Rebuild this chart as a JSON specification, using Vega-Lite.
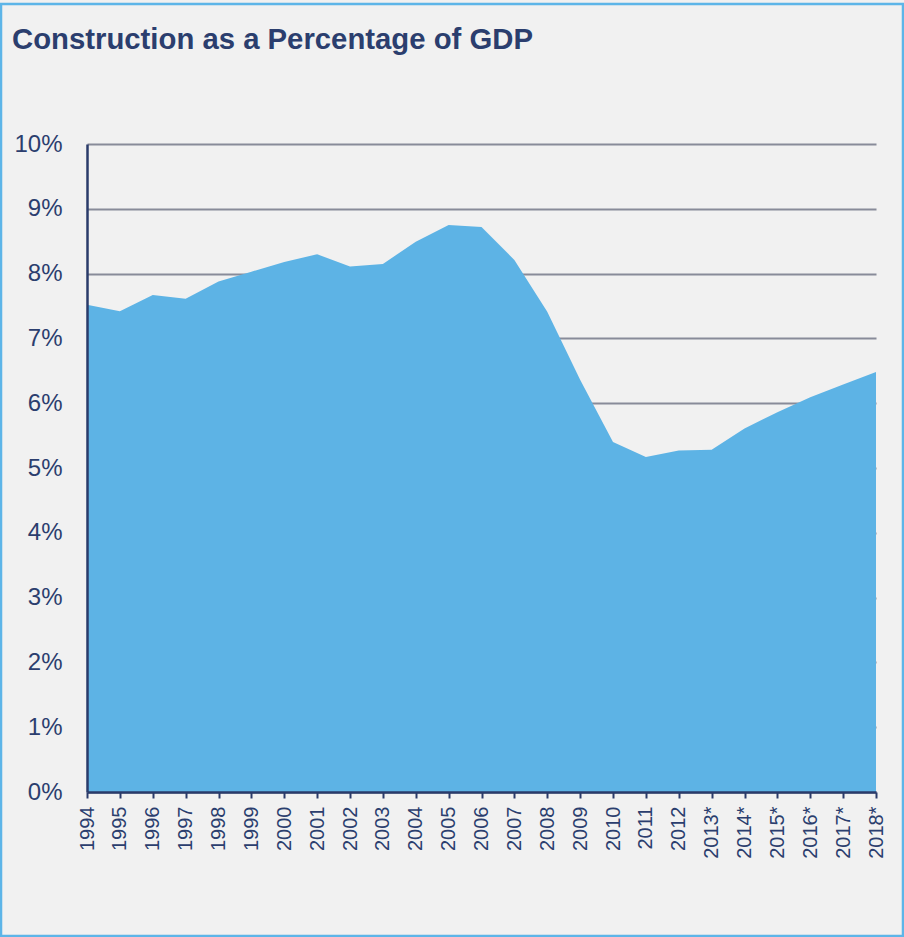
{
  "$schema": "https://vega.github.io/schema/vega-lite/v6.json",
  "width": 902,
  "height": 932,
  "autosize": {"type": "none"},
  "padding": {"left": 1, "top": 4, "right": 1, "bottom": 1},
  "background": "#f1f1f1",
  "title": {
    "text": "Construction as a Percentage of GDP",
    "anchor": "start",
    "frame": "group",
    "dx": 11,
    "offset": -74,
    "baseline": "alphabetic",
    "font": "Liberation Sans",
    "fontSize": 29.3,
    "fontWeight": "bold",
    "color": "#2b3e6e"
  },
  "config": {
    "view": {"stroke": "#5db5e8", "strokeWidth": 2.5, "fill": "#f1f1f1"}
  },
  "data": {
    "values": [
      {"year": "1994", "pct": 7.52},
      {"year": "1995", "pct": 7.42},
      {"year": "1996", "pct": 7.67},
      {"year": "1997", "pct": 7.61},
      {"year": "1998", "pct": 7.88},
      {"year": "1999", "pct": 8.03},
      {"year": "2000", "pct": 8.18},
      {"year": "2001", "pct": 8.30},
      {"year": "2002", "pct": 8.11},
      {"year": "2003", "pct": 8.15},
      {"year": "2004", "pct": 8.49},
      {"year": "2005", "pct": 8.75},
      {"year": "2006", "pct": 8.72},
      {"year": "2007", "pct": 8.21},
      {"year": "2008", "pct": 7.41},
      {"year": "2009", "pct": 6.36},
      {"year": "2010", "pct": 5.40},
      {"year": "2011", "pct": 5.17},
      {"year": "2012", "pct": 5.27},
      {"year": "2013*", "pct": 5.28},
      {"year": "2014*", "pct": 5.61},
      {"year": "2015*", "pct": 5.86},
      {"year": "2016*", "pct": 6.09},
      {"year": "2017*", "pct": 6.29},
      {"year": "2018*", "pct": 6.48}
    ]
  },
  "resolve": {"axis": {"x": "independent", "y": "independent"}},
  "layer": [
    {
      "mark": {"type": "area", "color": "#5db3e5", "opacity": 1},
      "encoding": {
        "x": {
          "field": "year",
          "type": "ordinal",
          "sort": null,
          "scale": {"type": "point", "padding": 0, "range": [86, 875]},
          "axis": null
        },
        "y": {
          "field": "pct",
          "type": "quantitative",
          "scale": {"domain": [0, 10], "range": [788, 140], "nice": false, "zero": true},
          "axis": {
            "orient": "left",
            "title": null,
            "offset": -86,
            "values": [0, 1, 2, 3, 4, 5, 6, 7, 8, 9, 10],
            "labels": false,
            "ticks": false,
            "domain": false,
            "grid": true,
            "gridColor": "#888b99",
            "gridWidth": 2,
            "zindex": 0
          }
        }
      }
    },
    {
      "mark": {"type": "line", "strokeOpacity": 0},
      "encoding": {
        "x": {
          "field": "year",
          "type": "ordinal",
          "sort": null,
          "axis": {
            "title": null,
            "offset": -144,
            "labelAngle": -90,
            "labelAlign": "right",
            "labelBaseline": "middle",
            "labelFont": "Liberation Sans",
            "labelFontSize": 20,
            "labelColor": "#2b3e6e",
            "labelPadding": 8,
            "tickSize": 6,
            "tickColor": "#2a3b6a",
            "tickWidth": 2,
            "domainColor": "#2a3b6a",
            "domainWidth": 2.5,
            "grid": false,
            "zindex": 1
          }
        },
        "y": {
          "field": "pct",
          "type": "quantitative",
          "axis": {
            "orient": "left",
            "title": null,
            "offset": -86,
            "values": [0, 1, 2, 3, 4, 5, 6, 7, 8, 9, 10],
            "labelExpr": "datum.value + '%'",
            "labelFont": "Liberation Sans",
            "labelFontSize": 24,
            "labelColor": "#2b3e6e",
            "labelPadding": 25,
            "ticks": false,
            "grid": false,
            "domainColor": "#2a3b6a",
            "domainWidth": 2.5,
            "zindex": 1
          }
        }
      }
    }
  ]
}
